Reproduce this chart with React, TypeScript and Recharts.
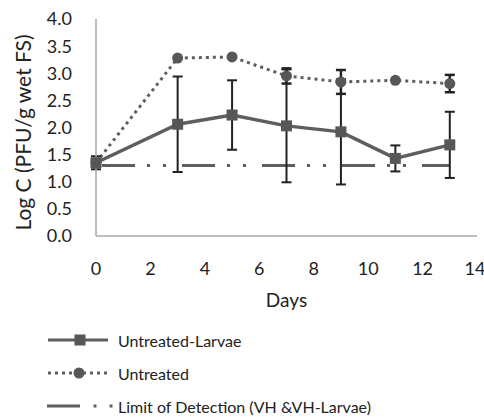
import { LineChart, Line, XAxis, YAxis, ErrorBar, Customized } from 'recharts'

const days = [0, 3, 5, 7, 9, 11, 13]
const larvae = [1.35, 2.06, 2.23, 2.03, 1.92, 1.43, 1.68]
const larvaeErr = [0.12, 0.88, 0.64, 1.04, 0.97, 0.24, 0.61]
const untreated = [1.35, 3.28, 3.3, 2.95, 2.84, 2.87, 2.81]
const untreatedErr = [0, 0, 0, 0.14, 0.22, 0, 0.16]
const lod = [1.3, 1.3, 1.3, 1.3, 1.3, 1.3, 1.3]

const xTicks = [0, 2, 4, 6, 8, 10, 12, 14]
const yTicks = [0, 0.5, 1, 1.5, 2, 2.5, 3, 3.5, 4]
const seriesNames = ['Untreated-Larvae', 'Untreated', 'Limit of Detection (VH &VH-Larvae)']
const yTitle = 'Log C (PFU/g wet FS)'

const data = days.map((d, i) => ({
  day: d,
  larvae: larvae[i],
  larvaeErr: larvaeErr[i],
  untreated: untreated[i],
  untreatedErr: untreatedErr[i],
  lod: lod[i],
}))

const FONT = 'Lato, "Open Sans", sans-serif'
const LINE = '#5e5e5e'
const MARK = '#575757'
const TEXT = '#222'

const SquareDot = (props: any) => {
  const { cx, cy, index } = props
  if (cx == null || cy == null) return null
  return <rect key={`sq-${index}`} x={cx - 5.5} y={cy - 5.5} width={11} height={11} fill={MARK} />
}

// rotated axis title, placed by hand so it sits like the original
const YTitle = (props: any) => {
  const vb = props.viewBox || { x: 0, y: 19, height: 217 }
  const x = 22
  const y = vb.y + vb.height / 2 + 5
  return (
    <text
      x={x}
      y={y}
      transform={`rotate(-90, ${x}, ${y})`}
      textAnchor="middle"
      dominantBaseline="central"
      fill={TEXT}
      fontSize={21}
      fontFamily={FONT}
    >
      {yTitle}
    </text>
  )
}

// legend drawn in the chart's own svg, below the x axis
const LegendSvg = () => {
  const rowY = [340, 373, 406]
  return (
    <g className="legend">
      <line x1={48} y1={rowY[0]} x2={108} y2={rowY[0]} stroke={LINE} strokeWidth={3} />
      <rect x={74.5} y={rowY[0] - 5.5} width={11} height={11} fill={MARK} />
      <line x1={48} y1={rowY[1]} x2={108} y2={rowY[1]} stroke={LINE} strokeWidth={3} strokeDasharray="3 4" />
      <circle cx={79} cy={rowY[1]} r={5.5} fill={MARK} />
      <line x1={47} y1={rowY[2]} x2={80} y2={rowY[2]} stroke={LINE} strokeWidth={3} />
      <rect x={93.5} y={rowY[2] - 1.5} width={3} height={3} fill={LINE} />
      <rect x={109.5} y={rowY[2] - 1.5} width={3} height={3} fill={LINE} />
      {seriesNames.map((name, i) => (
        <text key={name} x={118} y={rowY[i]} dominantBaseline="central" fill={TEXT} fontSize={16} fontFamily={FONT}>
          {name}
        </text>
      ))}
    </g>
  )
}

export default function App() {
  return (
    <div style={{ position: 'absolute', left: 0, top: 0, width: 484, height: 418, background: '#fff' }}>
      <LineChart width={484} height={418} data={data} margin={{ top: 19, right: 7, bottom: 95, left: 0 }}>
        <XAxis
          dataKey="day"
          type="number"
          domain={[0, 14]}
          ticks={xTicks}
          height={87}
          tickLine={false}
          tickSize={6}
          tickMargin={20}
          axisLine={{ stroke: '#a8a8a8', strokeWidth: 1.5 }}
          tick={{ fill: TEXT, fontSize: 18, fontFamily: FONT }}
          label={{ value: 'Days', position: 'insideBottom', offset: 16, fill: TEXT, fontSize: 19, fontFamily: FONT }}
        />
        <YAxis
          domain={[0, 4]}
          ticks={yTicks}
          width={96}
          tickFormatter={(v: number) => v.toFixed(1)}
          tickLine={false}
          tickSize={6}
          tickMargin={18}
          axisLine={{ stroke: '#a8a8a8', strokeWidth: 1.5 }}
          tick={{ fill: TEXT, fontSize: 18, fontFamily: FONT }}
          label={<YTitle />}
        />
        <Line
          dataKey="lod"
          stroke={LINE}
          strokeWidth={3}
          strokeDasharray="33 12 3 13 3 16"
          strokeDashoffset={-6}
          dot={false}
          activeDot={false}
          isAnimationActive={false}
        />
        <Line
          dataKey="untreated"
          stroke={LINE}
          strokeWidth={3}
          strokeDasharray="3 4"
          dot={{ r: 5.5, fill: MARK, stroke: MARK, strokeWidth: 0 }}
          activeDot={false}
          isAnimationActive={false}
        >
          <ErrorBar dataKey="untreatedErr" direction="y" width={5} stroke="#222" strokeWidth={2.5} />
        </Line>
        <Line
          dataKey="larvae"
          stroke={LINE}
          strokeWidth={3.5}
          dot={SquareDot}
          activeDot={false}
          isAnimationActive={false}
        >
          <ErrorBar dataKey="larvaeErr" direction="y" width={5} stroke="#222" strokeWidth={2} />
        </Line>
        <Customized component={LegendSvg} />
      </LineChart>
    </div>
  )
}
